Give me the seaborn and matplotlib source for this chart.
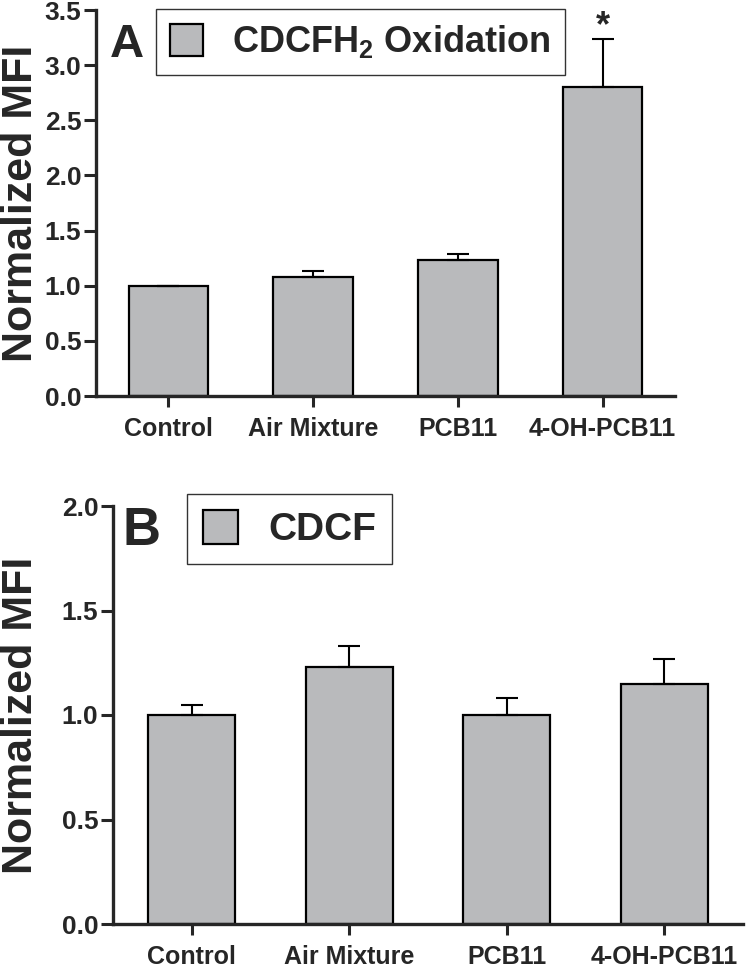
import matplotlib
matplotlib.use("Agg")
import matplotlib.pyplot as plt
from matplotlib import font_manager
import seaborn as sns
import pandas as pd
import numpy as np
from matplotlib.patches import Patch

# data
groups = ["Control", "Air Mixture", "PCB11", "4-OH-PCB11"]
oxidation_mean = [1.00, 1.08, 1.23, 2.80]
oxidation_sem = [0.00, 0.05, 0.06, 0.44]
cdcf_mean = [1.00, 1.23, 1.00, 1.15]
cdcf_sem = [0.05, 0.10, 0.08, 0.12]

sns.set_style("ticks")
plt.rcParams["font.family"] = ["Liberation Sans", "DejaVu Sans"]
plt.rcParams["font.weight"] = "bold"
plt.rcParams["mathtext.fontset"] = "custom"
plt.rcParams["mathtext.rm"] = "Liberation Sans:bold"
plt.rcParams["mathtext.bf"] = "Liberation Sans:bold"

# x labels in the original are a bit condensed
installed = {f.name for f in font_manager.fontManager.ttflist}
if "Liberation Sans Narrow" in installed:
    xlab_family, xlab_size = "Liberation Sans Narrow", 21
else:
    xlab_family, xlab_size = "Liberation Sans", 18

bar_color = "#b9babc"

fig = plt.figure(figsize=(7.47, 9.71), dpi=100)
axA = fig.add_axes([96 / 747, 1 - 396 / 971, 579 / 747, 386 / 971])
axB = fig.add_axes([113 / 747, 1 - 924 / 971, 630 / 747, 418 / 971])


def panel(ax, means, sems, ymax, label, legsize, letter, letsize,
          legend_xy, letter_xy):
    df = pd.DataFrame({"group": groups, "value": means})
    sns.barplot(data=df, x="group", y="value", color=bar_color,
                edgecolor="black", linewidth=1.6, width=0.55,
                saturation=1, ax=ax)
    x = np.arange(len(groups))
    err = np.array(sems)
    ax.errorbar(x, means, yerr=[np.zeros_like(err), err], fmt="none",
                ecolor="black", elinewidth=1.5, capsize=8, capthick=1.5,
                zorder=1)
    ax.set_xlim(-0.5, 3.5)
    ax.set_ylim(0, ymax)
    ticks = np.arange(0, ymax + 0.01, 0.5)
    ax.set_yticks(ticks)
    ax.set_yticklabels([f"{v:.1f}" for v in ticks])
    ax.set_xlabel("")
    ax.set_ylabel("Normalized MFI", fontsize=31, fontweight="bold")
    sns.despine(ax=ax)
    for s in ["left", "bottom"]:
        ax.spines[s].set_linewidth(2.4)
    ax.tick_params(axis="y", length=9, width=2.2, labelsize=19, pad=1.5)
    ax.tick_params(axis="x", length=8, width=2.2, pad=7)
    for t in ax.get_yticklabels():
        t.set_fontweight("bold")
    for t in ax.get_xticklabels():
        t.set_fontweight("bold")
        t.set_family(xlab_family)
        t.set_fontsize(xlab_size)
    handle = Patch(facecolor=bar_color, edgecolor="black", linewidth=1.6)
    leg = ax.legend([handle], [label], loc="upper left",
                    bbox_to_anchor=legend_xy, bbox_transform=fig.transFigure,
                    fancybox=False, framealpha=1, edgecolor="#333333",
                    prop={"size": legsize, "weight": "bold"},
                    handlelength=0.9, handleheight=1.0, handletextpad=0.8,
                    borderpad=0.4, borderaxespad=0)
    leg.get_frame().set_linewidth(1.0)
    fig.text(letter_xy[0], letter_xy[1], letter, fontsize=letsize,
             fontweight="bold", va="baseline")
    # center the rotated label around x = 20 px
    pos = ax.get_position()
    ax.yaxis.label.set_va("center")
    ax.yaxis.set_label_coords(21 / 747, pos.y0 + pos.height / 2,
                              transform=fig.transFigure)
    return ax


panel(axA, oxidation_mean, oxidation_sem, 3.5, "CDCFH$_2$ Oxidation", 26,
      "A", 34, (156 / 747, 1 - 9 / 971), (110 / 747, 1 - 57 / 971))
panel(axB, cdcf_mean, cdcf_sem, 2.0, "CDCF", 28, "B", 38,
      (187 / 747, 1 - 494 / 971), (122 / 747, 1 - 545 / 971))

axA.annotate("*", xy=(3, oxidation_mean[3] + oxidation_sem[3]),
             xytext=(0, -4), textcoords="offset points", ha="center",
             va="bottom", fontsize=26, fontweight="bold",
             annotation_clip=False)

fig.savefig("out.png", dpi=100)
